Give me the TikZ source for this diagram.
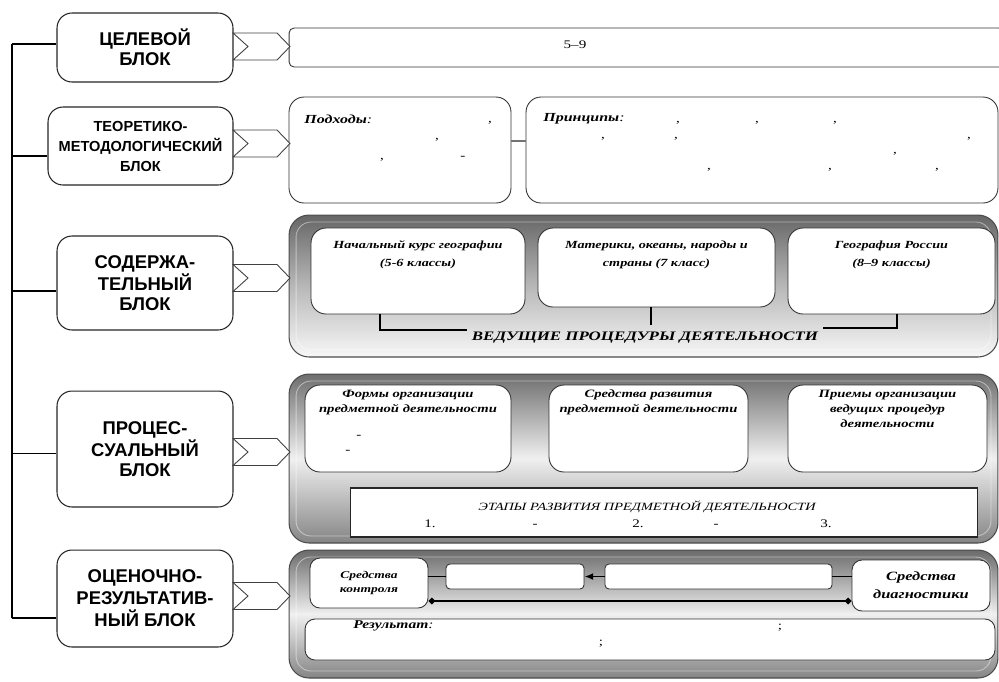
\documentclass[tikz,border=0pt]{standalone}
\usepackage{fontspec}
\setmainfont{Liberation Serif}
\setsansfont{Liberation Sans}
\newfontfamily\wideserif[FakeStretch=1.3, UprightFont=*, BoldFont=* Bold, ItalicFont=* Italic, BoldItalicFont=* Bold Italic]{Liberation Serif}
\newfontfamily\wideit[FakeStretch=1.3, FakeSlant=0.05]{Liberation Serif Italic}
\usetikzlibrary{positioning,arrows.meta}

\begin{document}
\begin{tikzpicture}[auto,>=latex,x=0.02cm,y=-0.02cm]
	\tikzstyle{blk} = [draw=black!85, line width=0.6pt, fill=white, rounded corners=0.3cm, align=center, minimum width=3.52cm, font=\sffamily\bfseries\fontsize{10.5}{11.4}\selectfont]
	\tikzstyle{panel} = [draw=black!70, line width=0.6pt, rounded corners=0.4cm, minimum width=14.18cm]
	\tikzstyle{bevel} = [draw=white, opacity=0.45, line width=0.5pt, rounded corners=0.3cm, minimum width=13.9cm]
	\tikzstyle{wbox} = [draw=black!80, line width=0.5pt, fill=white, rounded corners=0.3cm, align=center]
	\tikzstyle{ktxt} = [inner sep=0pt, align=center, font=\wideserif\bfseries\itshape\fontsize{6.2}{10.2}\selectfont]
	\tikzstyle{ftxt} = [ktxt, font=\wideserif\bfseries\itshape\fontsize{6.4}{8.5}\selectfont]
	\tikzstyle{vtxt} = [inner sep=2.5pt, font=\wideserif\bfseries\itshape\fontsize{7.4}{9}\selectfont]
	\tikzstyle{etxt} = [inner sep=0pt, font=\wideit\fontsize{6.3}{8}\selectfont]
	\tikzstyle{ptxt} = [inner sep=0pt, font=\wideserif\itshape\fontsize{7}{8}\selectfont]
	\tikzstyle{punct} = [inner sep=0pt, anchor=base, font=\wideserif\fontsize{6.6}{8}\selectfont]
	\tikzset{chev/.pic={\draw[draw=black!75, line width=0.5pt, fill=white] (0,-13.5) -- (44,-13.5) -- (57,0) -- (44,13.5) -- (0,13.5) -- (15,0) -- cycle;}}

	\useasboundingbox (0,0) rectangle (999,681);

	% left column
	\node [blk, minimum height=1.38cm] (cel) at (145,47.5) {ЦЕЛЕВОЙ\\БЛОК};
	\node [blk, minimum width=3.7cm, minimum height=1.56cm, font=\sffamily\bfseries\fontsize{8.3}{11.4}\selectfont] (teor) at (140.5,146) {ТЕОРЕТИКО-\\МЕТОДОЛОГИЧЕСКИЙ\\БЛОК};
	\node [blk, minimum height=1.88cm] (sod) at (145,283) {СОДЕРЖА-\\ТЕЛЬНЫЙ\\БЛОК};
	\node [blk, minimum height=2.32cm] (proc) at (145,449) {ПРОЦЕС-\\СУАЛЬНЫЙ\\БЛОК};
	\node [blk, minimum height=1.94cm, font=\sffamily\bfseries\fontsize{10.5}{12.5}\selectfont] (ocen) at (145,598.5) {ОЦЕНОЧНО-\\РЕЗУЛЬТАТИВ-\\НЫЙ БЛОК};

	\coordinate (s1) at (12,44);
	\coordinate (s2) at (12,156);
	\coordinate (s3) at (12,291);
	\coordinate (s4) at (12,453);
	\coordinate (s5) at (12,618);
	\draw [line width=1.1pt] (s1) -- (s5);
	\draw [line width=1pt] (s1) -- (s1 -| cel.west);
	\draw [line width=1pt] (s2) -- (s2 -| teor.west);
	\draw [line width=1pt] (s3) -- (s3 -| sod.west);
	\draw [line width=0.5pt] (s4) -- (s4 -| proc.west);
	\draw [line width=1pt] (s5) -- (s5 -| ocen.west);

	% target
	\node [wbox, rounded corners=0.1cm, minimum width=14.3cm, minimum height=0.78cm] (tsel) at (646.5,47.5) {};
	\node [punct] (klass) at (575,48) {5–9};

	% theory
	\node [wbox, minimum width=4.44cm, minimum height=2.12cm] (podh) at (400,150) {};
	\node [wbox, minimum width=9.44cm, minimum height=2.12cm] (princ) at (762,150) {};
	\draw [black!55, line width=1pt] ([yshift=0.18cm]podh.east) -- ([yshift=0.18cm]princ.west);
	\node [ptxt, anchor=west] (podhT) at (304,119) {{\bfseries Подходы}:};
	\node [ptxt, anchor=west] (princT) at (543,119) {{\bfseries Принципы}:};
	\foreach \x/\y [count=\i] in {490/122, 437/139, 382/159, 678/122, 757/122, 835/122, 603/138, 676/138, 969/138, 895/153, 709/169, 830/169, 937/169}
		\node [punct] (cm\i) at (\x,\y) {,};
	\node [punct] (dh1) at (463,159) {-};

	% content
	\node [panel, minimum height=2.84cm, top color=black!60, bottom color=black!3, middle color=black!28] (soderp) at (643.5,286) {};
	\node [bevel, minimum height=2.56cm] (soderb) at (643.5,286) {};
	\node [wbox, minimum width=4.28cm, minimum height=1.72cm] (kurs) at (418,271) {};
	\node [wbox, minimum width=4.74cm, minimum height=1.58cm] (mater) at (656.5,267.5) {};
	\node [wbox, minimum width=4.14cm, minimum height=1.72cm] (ross) at (891.5,271) {};
	\node [ktxt, below=0.26cm of kurs.north] (kursT) {Начальный курс географии\\(5-6 классы)};
	\node [ktxt, below=0.26cm of mater.north] (materT) {Материки, океаны, народы и\\страны (7 класс)};
	\node [ktxt, below=0.26cm of ross.north] (rossT) {География России\\(8–9 классы)};
	\node [vtxt] (ved) at (645,338) {ВЕДУЩИЕ ПРОЦЕДУРЫ ДЕЯТЕЛЬНОСТИ};
	\draw [line width=0.9pt] ([xshift=-0.76cm]kurs.south) |- ([yshift=0.16cm]ved.west);
	\draw [line width=0.9pt] ([xshift=-0.11cm]mater.south) -- ++(0,18);
	\draw [line width=0.9pt] ([xshift=0.11cm]ross.south) |- ([yshift=0.2cm]ved.east);

	% process
	\node [panel, minimum height=3.38cm, top color=black!57, bottom color=black!48, middle color=black!6] (protsp) at (643.5,458.5) {};
	\node [bevel, minimum height=3.1cm] (protsb) at (643.5,458.5) {};
	\node [wbox, minimum width=4.12cm, minimum height=1.74cm] (form) at (408,428.5) {};
	\node [wbox, minimum width=3.98cm, minimum height=1.74cm] (sredr) at (648.5,428.5) {};
	\node [wbox, minimum width=3.98cm, minimum height=1.74cm] (priem) at (887.5,428.5) {};
	\node [ftxt, below=0.1cm of form.north] (formT) {Формы организации\\предметной деятельности};
	\node [ftxt, below=0.1cm of sredr.north] (sredrT) {Средства развития\\предметной деятельности};
	\node [ftxt, below=0.1cm of priem.north] (priemT) {Приемы организации\\ведущих процедур\\деятельности};
	\node [punct] (dh2) at (359,438) {-};
	\node [punct] (dh3) at (348,453) {-};
	\node [draw=black!85, fill=white, line width=0.6pt, minimum width=12.56cm, minimum height=0.98cm] (etap) at (664,512.5) {};
	\node [etxt] (etapT) at (647,507) {ЭТАПЫ РАЗВИТИЯ ПРЕДМЕТНОЙ ДЕЯТЕЛЬНОСТИ};
	\foreach \x/\t [count=\i] in {430/1., 535/-, 638/2., 716/-, 826/3.}
		\node [punct] (st\i) at (\x,527) {\t};

	% evaluation
	\node [panel, minimum height=2.56cm, top color=black!58, bottom color=black!48, middle color=black!6] (otsp) at (643.5,614) {};
	\node [bevel, minimum height=2.28cm] (otsb) at (643.5,614) {};
	\node [wbox, rounded corners=0.2cm, minimum width=2.36cm, minimum height=1cm, font=\wideserif\bfseries\itshape\fontsize{5.9}{8.5}\selectfont] (kontr) at (369,583) {Средства\\контроля};
	\node [wbox, rounded corners=0.08cm, minimum width=2.76cm, minimum height=0.5cm] (boxA) at (515,576.5) {};
	\node [wbox, rounded corners=0.08cm, minimum width=4.54cm, minimum height=0.5cm] (boxB) at (718.5,576.5) {};
	\node [wbox, rounded corners=0.2cm, minimum width=2.76cm, minimum height=1.02cm, font=\wideserif\bfseries\itshape\fontsize{7.2}{10.2}\selectfont] (diagn) at (921,585.5) {Средства\\диагностики};
	\node [wbox, rounded corners=0.2cm, minimum width=13.8cm, minimum height=0.82cm] (rez) at (650,639.5) {};
	\node [ptxt, anchor=west, font=\wideserif\itshape\fontsize{6.8}{8}\selectfont] (rezT) at (353,626) {{\bfseries Результат}:};
	\node [punct] (sc1) at (780,629) {;};
	\node [punct] (sc2) at (601,645) {;};
	\draw [line width=1pt] (boxA.west -| kontr.east) -- (boxA.west);
	\draw [line width=1pt, -{Latex[length=5pt,width=4pt]}] (boxB.west) -- (boxA.east);
	\draw [line width=1pt] (boxB.east) -- (boxB.east -| diagn.west);
	\draw [line width=1pt, {Diamond[length=4pt,width=4pt]}-{Diamond[length=4pt,width=4pt]}] ([yshift=-0.36cm]kontr.east) -- ([yshift=-0.31cm]diagn.west);

	% links from blocks
	\foreach \y in {46.5,143.5,278,452,596}
		\pic at (233,\y) {chev};
\end{tikzpicture}
\end{document}
